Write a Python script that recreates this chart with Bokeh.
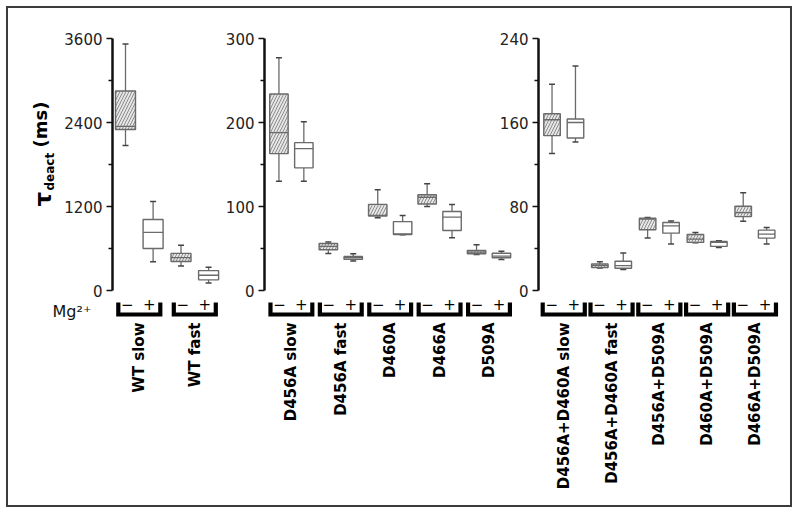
import math
from bokeh.plotting import figure
from bokeh.models import Range1d, FixedTicker
from bokeh.layouts import row
from bokeh.embed import file_html
from bokeh.resources import INLINE
from bokeh.core.properties import value

# ---------------- data (ms) ----------------
# each box: [lower whisker, Q1, median, Q3, upper whisker]
p1_groups = ["WT slow", "WT fast"]
p1_minus = [[2070, 2300, 2345, 2850, 3520], [350, 414, 470, 530, 648]]
p1_plus = [[410, 600, 830, 1015, 1270], [108, 152, 218, 284, 333]]
p1_ticks = [0, 1200, 2400, 3600]
p1_minor = [600, 1800, 3000]

p2_groups = ["D456A slow", "D456A fast", "D460A", "D466A", "D509A"]
p2_minus = [[130, 163, 188, 234, 277], [44, 48.5, 52.5, 56, 57.6],
            [86.6, 88.6, 89.4, 102.5, 120], [100, 103, 111, 114, 127],
            [43, 43.7, 45.7, 47.6, 54.4]]
p2_plus = [[130, 146, 169, 176, 201], [35, 37, 39, 40.5, 43.7],
           [66.3, 66.7, 67.5, 82, 89.4], [62.8, 71.5, 87.4, 94, 102.5],
           [36.9, 38.9, 41, 44.4, 46.8]]
p2_ticks = [0, 100, 200, 300]
p2_minor = [50, 150, 250]

p3_groups = ["D456A+D460A slow", "D456A+D460A fast", "D456A+D509A",
             "D460A+D509A", "D466A+D509A"]
p3_minus = [[130.4, 147.5, 162.6, 168.3, 196.4], [21.5, 21.8, 23.7, 25.3, 27.5],
            [49.9, 57.8, 67.9, 68.8, 69.5], [45.5, 45.8, 48.9, 53.4, 55.3],
            [66, 70.4, 74.2, 80.2, 93.2]]
p3_plus = [[141.5, 145.3, 160, 163.3, 213.8], [19.9, 21.2, 23.7, 27.8, 35.7],
           [44.2, 54.6, 61.6, 64.7, 66.3], [41, 42, 45.8, 46.7, 47.4],
           [44.2, 49.9, 53.7, 57.5, 60]]
p3_ticks = [0, 80, 160, 240]
p3_minor = [40, 120, 200]

y_title = ["\u03c4", "deact", "(ms)"]
mg_text = "Mg\u00b2\u207a"

# ---------------- layout constants (page pixels) ----------------
ORIGIN = 8          # content starts here (after margin + border)
FIG_TOP = ORIGIN
FIG_H = 497
FRAME_TOP = 34
FRAME_BOTTOM = 320
ZERO_PX = 290
TOP_PX = 38

AX_COLOR = "#111111"
BOX_COLOR = "#6a6a6a"
FONT = "DejaVu Sans"


def make_panel(groups, minus, plus, ticks, minor, fig_left, frame_left, frame_right,
               fig_right, g0, spacing, offset, boxw):
    ymax = ticks[-1]
    y0 = -(FRAME_BOTTOM - ZERO_PX) / (ZERO_PX - TOP_PX) * ymax
    y1 = ymax * (ZERO_PX - FRAME_TOP) / (ZERO_PX - TOP_PX)
    x0 = (frame_left - g0) / spacing
    x1 = (frame_right - g0) / spacing

    def px2y(py):
        return y0 + (FRAME_BOTTOM - py) / (FRAME_BOTTOM - FRAME_TOP) * (y1 - y0)

    p = figure(width=int(round(fig_right - fig_left)), height=FIG_H,
               x_range=Range1d(x0, x1), y_range=Range1d(y0, y1),
               output_backend="svg", toolbar_location=None,
               min_border_left=int(round(frame_left - fig_left)),
               min_border_right=int(round(fig_right - frame_right)),
               min_border_top=FRAME_TOP - FIG_TOP,
               min_border_bottom=FIG_H - (FRAME_BOTTOM - FIG_TOP))
    p.xgrid.visible = False
    p.ygrid.visible = False
    p.outline_line_color = None
    p.background_fill_alpha = 0
    p.border_fill_alpha = 0

    # y axis
    ya = p.yaxis[0]
    ya.ticker = FixedTicker(ticks=ticks, minor_ticks=minor)
    ya.bounds = (0, ymax)
    ya.axis_line_color = AX_COLOR
    ya.axis_line_width = 2.5
    ya.major_tick_line_color = AX_COLOR
    ya.major_tick_line_width = 1.5
    ya.major_tick_out = 6
    ya.major_tick_in = 0
    ya.minor_tick_line_color = AX_COLOR
    ya.minor_tick_line_width = 1.5
    ya.minor_tick_out = 4
    ya.minor_tick_in = 0
    ya.major_label_text_font = FONT
    ya.major_label_text_font_size = "15px"
    ya.major_label_text_color = "#222222"
    ya.major_label_standoff = 4

    # x axis: group names (rotated, reading upwards)
    xa = p.xaxis[0]
    xa.ticker = FixedTicker(ticks=list(range(len(groups))), minor_ticks=[])
    xa.major_label_overrides = {i: g for i, g in enumerate(groups)}
    xa.major_label_orientation = math.pi / 2
    xa.axis_line_color = None
    xa.major_tick_line_color = None
    xa.minor_tick_line_color = None
    xa.major_tick_out = 0
    xa.major_tick_in = 0
    xa.major_label_standoff = 2
    xa.major_label_text_font = FONT
    xa.major_label_text_font_style = "bold"
    xa.major_label_text_font_size = "15px"
    xa.major_label_text_color = "#000000"

    d = offset / spacing
    bw = boxw / spacing
    for sign, data, hatched in ((-1, minus, True), (1, plus, False)):
        xs = [i + sign * d for i in range(len(groups))]
        lo = [b[0] for b in data]
        q1 = [b[1] for b in data]
        med = [b[2] for b in data]
        q3 = [b[3] for b in data]
        hi = [b[4] for b in data]
        p.segment(x0=xs, y0=q3, x1=xs, y1=hi, line_color=BOX_COLOR, line_width=1.3)
        p.segment(x0=xs, y0=q1, x1=xs, y1=lo, line_color=BOX_COLOR, line_width=1.3)
        p.scatter(x=xs + xs, y=hi + lo, marker="dash", size=6,
                  line_color="#444444", line_width=1.5)
        if hatched:
            p.vbar(x=xs, width=bw, top=q3, bottom=q1, fill_color="#e6e6e6",
                   hatch_pattern="/", hatch_color="#8c8c8c", hatch_scale=6,
                   hatch_weight=1, line_color=BOX_COLOR, line_width=1.4)
        else:
            p.vbar(x=xs, width=bw, top=q3, bottom=q1, fill_color="white",
                   line_color=BOX_COLOR, line_width=1.4)
        p.segment(x0=[x - bw / 2 for x in xs], y0=med, x1=[x + bw / 2 for x in xs],
                  y1=med, line_color=BOX_COLOR, line_width=1.3)

    # brackets with - / + signs
    half = 21 / spacing
    n = len(groups)
    bxs, bys = [], []
    for i in range(n):
        bxs.append([i - half, i - half, i + half, i + half])
        bys.append([px2y(302), px2y(314), px2y(314), px2y(302)])
    p.multi_line(xs=bxs, ys=bys, line_color="black", line_width=4.2,
                 line_join="miter", line_cap="butt")
    p.text(x=[i - 12 / spacing for i in range(n)], y=[px2y(303)] * n, text=["\u2212"] * n,
           text_align="center", text_baseline="middle", text_font=value(FONT),
           text_font_size="15px", text_color="black")
    p.text(x=[i + 10 / spacing for i in range(n)], y=[px2y(303)] * n, text=["+"] * n,
           text_align="center", text_baseline="middle", text_font=value(FONT),
           text_font_size="15px", text_color="black")
    return p


# ---- title strip on the far left (y-axis title + Mg2+ label) ----
# The row aligns all plot frames, so this strip's frame spans FRAME_TOP..FRAME_BOTTOM.
T_LEFT, T_RIGHT = ORIGIN, 106
T_W = T_RIGHT - T_LEFT


def ty(page_y):
    return FIG_H * (FRAME_BOTTOM - page_y) / (FRAME_BOTTOM - FRAME_TOP)


def tx(page_x):
    return page_x - T_LEFT


pt = figure(width=T_W, height=FIG_H,
            x_range=Range1d(0, T_W), y_range=Range1d(0, FIG_H),
            x_axis_location=None, y_axis_location=None,
            output_backend="svg", toolbar_location=None,
            min_border=0, min_border_left=0, min_border_right=0,
            min_border_top=0, min_border_bottom=0)
pt.xgrid.visible = False
pt.ygrid.visible = False
pt.outline_line_color = None
pt.background_fill_color = "white"
pt.text(x=[tx(42)], y=[ty(206)], text=[y_title[0]], angle=math.pi / 2,
        text_font=value(FONT), text_font_size="23px", text_font_style="bold",
        text_color="black", text_align="left", text_baseline="alphabetic")
pt.text(x=[tx(49.5)], y=[ty(190)], text=[y_title[1]], angle=math.pi / 2,
        text_font=value(FONT), text_font_size="12px", text_font_style="bold",
        text_color="black", text_align="left", text_baseline="alphabetic")
pt.text(x=[tx(40)], y=[ty(147)], text=[y_title[2]], angle=math.pi / 2,
        text_font=value(FONT), text_font_size="18px", text_font_style="bold",
        text_color="black", text_align="left", text_baseline="alphabetic")
pt.text(x=[tx(52)], y=[ty(310.5)], text=[mg_text], text_font=value(FONT),
        text_font_size="16px", text_color="#111111", text_align="left",
        text_baseline="alphabetic")

P1_LEFT = 60
p1 = make_panel(p1_groups, p1_minus, p1_plus, p1_ticks, p1_minor,
                fig_left=P1_LEFT, frame_left=112, frame_right=222, fig_right=222,
                g0=138.8, spacing=55.5, offset=13.8, boxw=20)
p1.margin = (0, 0, 0, -(T_RIGHT - P1_LEFT))
p2 = make_panel(p2_groups, p2_minus, p2_plus, p2_ticks, p2_minor,
                fig_left=222, frame_left=263, frame_right=512, fig_right=512,
                g0=290, spacing=49.6, offset=12.5, boxw=18.5)
p3 = make_panel(p3_groups, p3_minus, p3_plus, p3_ticks, p3_minor,
                fig_left=494, frame_left=538.5, frame_right=790, fig_right=790,
                g0=563.7, spacing=47.7, offset=11.7, boxw=16.5)
p3.margin = (0, 0, 0, -18)

layout = row(pt, p1, p2, p3,
             styles={"border": "2px solid #3c3c3c", "background-color": "white",
                     "margin-left": "6px", "margin-top": "6px"})

open("out.html", "w").write(file_html(layout, INLINE))
